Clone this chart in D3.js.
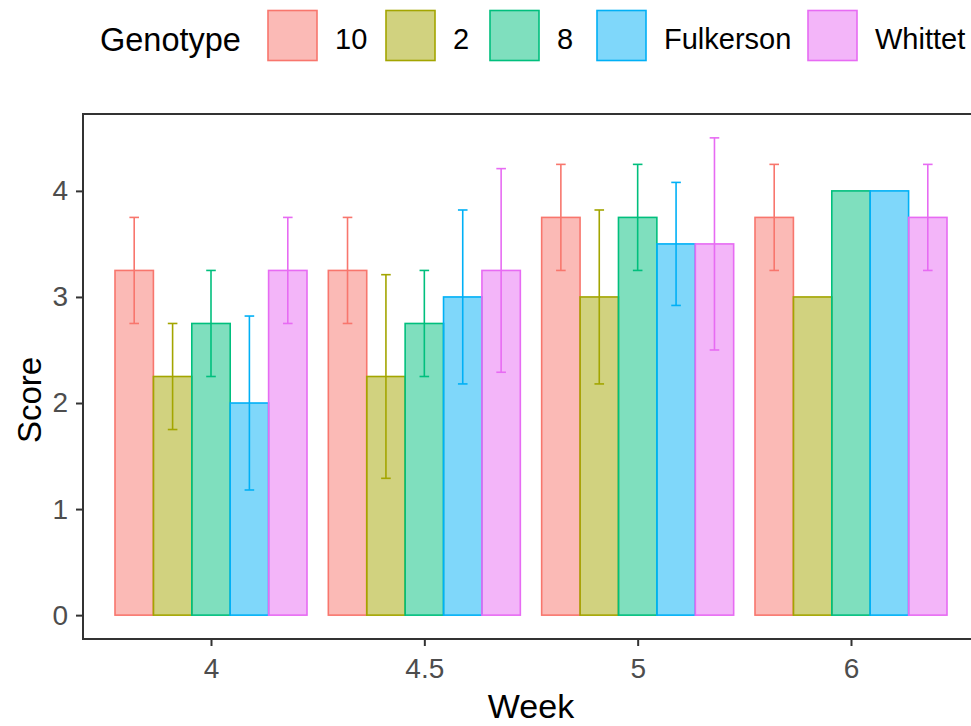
<!DOCTYPE html>
<html>
<head>
<meta charset="utf-8">
<script src="https://cdn.jsdelivr.net/npm/d3@7"></script>
<style>
  body { margin: 0; background: #fff; }
  svg { display: block; font-family: "Liberation Sans", Arial, sans-serif; }
</style>
</head>
<body>
<div id="chart"></div>
<script>
// values
const weeks = ['4', '4.5', '5', '6'];
const genotypes = ['10', '2', '8', 'Fulkerson', 'Whittet'];
const colors = ['#F8766D', '#A3A500', '#00BF7D', '#00B0F6', '#E76BF3'];
const yTicks = [0, 1, 2, 3, 4];

// mean score per genotype, one value per week
const score10 = [3.25, 3.25, 3.75, 3.75];
const score2 = [2.25, 2.25, 3.0, 3.0];
const score8 = [2.75, 2.75, 3.75, 4.0];
const scoreFulkerson = [2.0, 3.0, 3.5, 4.0];
const scoreWhittet = [3.25, 3.25, 3.5, 3.75];

// error bar half widths (0 = no bar drawn)
const err10 = [0.5, 0.5, 0.5, 0.5];
const err2 = [0.5, 0.96, 0.82, 0];
const err8 = [0.5, 0.5, 0.5, 0];
const errFulkerson = [0.82, 0.82, 0.58, 0];
const errWhittet = [0.5, 0.96, 1.0, 0.5];

const scores = [score10, score2, score8, scoreFulkerson, scoreWhittet];
const errs = [err10, err2, err8, errFulkerson, errWhittet];

const width = 971;
const height = 726;
const panel = {left: 83, top: 114, right: 979, bottom: 639};

let data = [];
genotypes.forEach((g, i) => {
    weeks.forEach((w, j) => {
        data.push({Genotype: g, Week: w, Score: scores[i][j], Err: errs[i][j]});
    });
});

let svg = d3.select('#chart')
    .append('svg')
    .attr('width', width)
    .attr('height', height);

let x = d3.scalePoint()
    .domain(weeks)
    .range([panel.left, panel.right])
    .padding(0.6);

let dodge = d3.scaleBand()
    .domain(genotypes)
    .range([-x.step() * 0.45, x.step() * 0.45]);

let y = d3.scaleLinear()
    .domain([-0.225, 4.725])
    .range([panel.bottom, panel.top]);

let color = d3.scaleOrdinal().domain(genotypes).range(colors);

// bars
svg.append('g')
    .selectAll('rect')
    .data(data)
    .enter().append('rect')
    .attr('x', d => x(d.Week) + dodge(d.Genotype))
    .attr('y', d => y(d.Score))
    .attr('width', dodge.bandwidth())
    .attr('height', d => y(0) - y(d.Score))
    .style('fill', d => color(d.Genotype))
    .style('fill-opacity', 0.5)
    .style('stroke', d => color(d.Genotype))
    .style('stroke-width', 1.6);

// error bars
let capW = dodge.bandwidth() * 0.25;
let eb = svg.append('g')
    .selectAll('g')
    .data(data.filter(d => d.Err > 0))
    .enter().append('g')
    .attr('transform', d => `translate(${x(d.Week) + dodge(d.Genotype) + dodge.bandwidth() / 2},0)`)
    .style('stroke', d => color(d.Genotype))
    .style('stroke-width', 1.6);
eb.append('line')
    .attr('y1', d => y(d.Score - d.Err))
    .attr('y2', d => y(d.Score + d.Err));
eb.append('line')
    .attr('x1', -capW / 2).attr('x2', capW / 2)
    .attr('y1', d => y(d.Score + d.Err)).attr('y2', d => y(d.Score + d.Err));
eb.append('line')
    .attr('x1', -capW / 2).attr('x2', capW / 2)
    .attr('y1', d => y(d.Score - d.Err)).attr('y2', d => y(d.Score - d.Err));

// panel border
svg.append('rect')
    .attr('x', panel.left)
    .attr('y', panel.top)
    .attr('width', panel.right - panel.left)
    .attr('height', panel.bottom - panel.top)
    .style('fill', 'none')
    .style('stroke', '#333')
    .style('stroke-width', 2);

// axes
let xAxis = svg.append('g')
    .attr('transform', `translate(0,${panel.bottom})`)
    .call(d3.axisBottom(x).tickSize(7).tickPadding(12));
let yAxis = svg.append('g')
    .attr('transform', `translate(${panel.left},0)`)
    .call(d3.axisLeft(y).tickValues(yTicks).tickFormat(d3.format('d')).tickSize(7).tickPadding(8));
[xAxis, yAxis].forEach(a => {
    a.select('.domain').remove();
    a.selectAll('line').style('stroke', '#333').style('stroke-width', 2);
    a.selectAll('text')
        .style('font-family', '"Liberation Sans", Arial, sans-serif')
        .style('font-size', '28px')
        .style('fill', '#4D4D4D');
});

svg.append('text')
    .attr('x', (panel.left + panel.right) / 2)
    .attr('y', 718)
    .style('text-anchor', 'middle')
    .style('font-size', '34px')
    .text('Week');

svg.append('text')
    .attr('transform', 'translate(41, 400) rotate(270)')
    .style('text-anchor', 'middle')
    .style('font-size', '33px')
    .text('Score');

// legend
let legendKeyX = [268, 386, 490, 597, 808];
let legend = svg.append('g');
legend.append('text')
    .attr('x', 100)
    .attr('y', 51)
    .style('font-size', '32.5px')
    .text('Genotype');
let items = legend.selectAll('g.item')
    .data(genotypes)
    .enter().append('g')
    .attr('class', 'item')
    .attr('transform', (d, i) => `translate(${legendKeyX[i]},0)`);
items.append('rect')
    .attr('x', 0).attr('y', 10.5)
    .attr('width', 49).attr('height', 50)
    .style('fill', d => color(d))
    .style('fill-opacity', 0.5)
    .style('stroke', d => color(d))
    .style('stroke-width', 1.6);
items.append('text')
    .attr('x', 67)
    .attr('y', 49)
    .style('font-size', '29px')
    .text(d => d);
</script>
</body>
</html>
